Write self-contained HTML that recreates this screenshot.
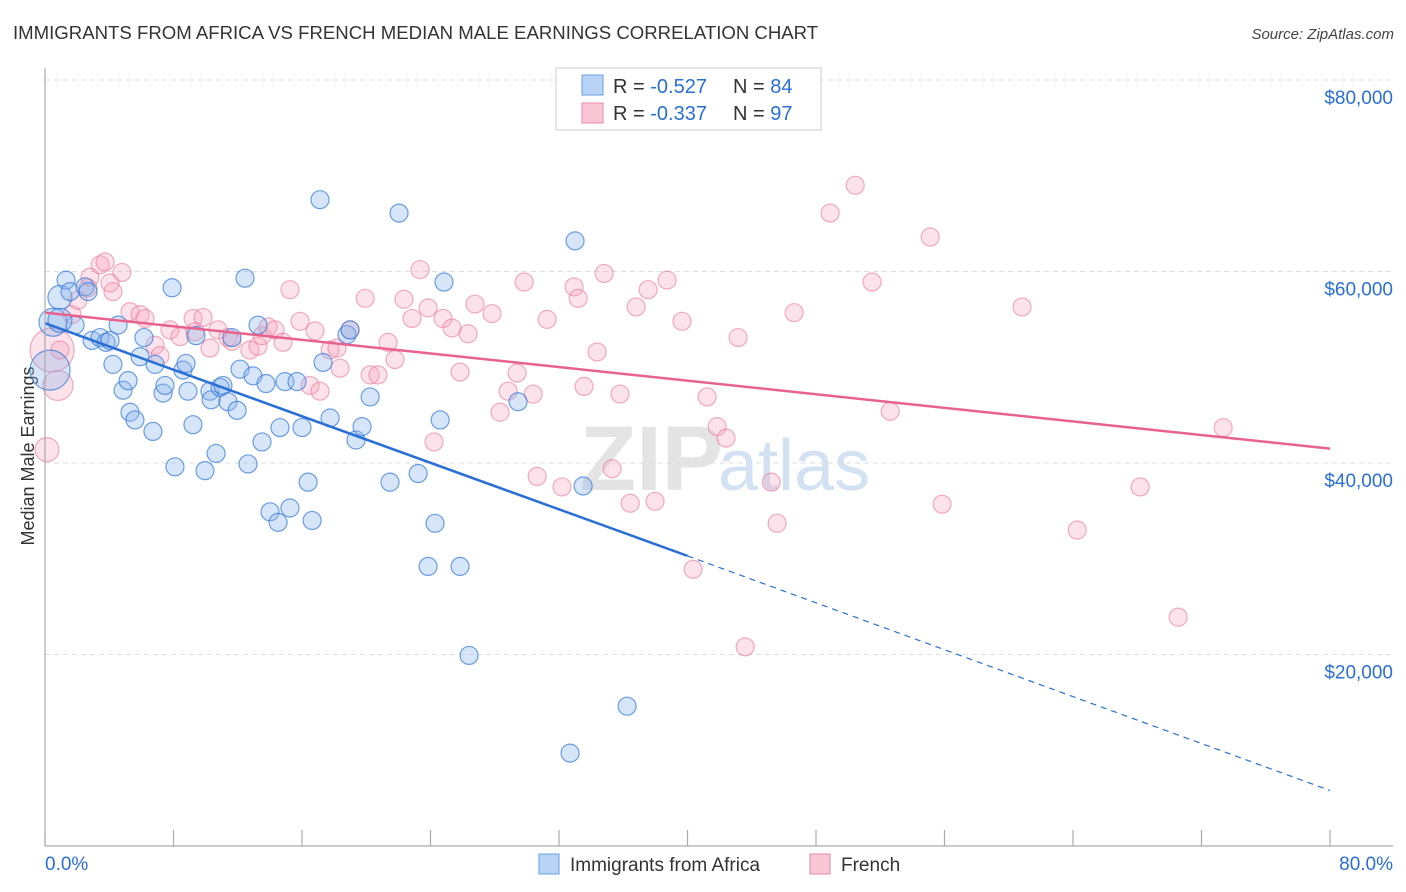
<!DOCTYPE html>
<html><head><meta charset="utf-8">
<style>
body{margin:0;background:#fff;font-family:"Liberation Sans",sans-serif;}
#wrap{position:relative;width:1406px;height:892px;overflow:hidden;}
svg text{font-family:"Liberation Sans",sans-serif;}
</style></head>
<body>
<div id="wrap">
<svg id="chart" width="1406" height="892">
<text x="13" y="39" font-size="18.6" fill="#333">IMMIGRANTS FROM AFRICA VS FRENCH MEDIAN MALE EARNINGS CORRELATION CHART</text>
<text x="1394" y="39" font-size="15" fill="#444" font-style="italic" text-anchor="end">Source: ZipAtlas.com</text>
<text transform="translate(34,456) rotate(-90)" font-size="18" fill="#333" text-anchor="middle">Median Male Earnings</text>
<text x="580" y="490" font-size="92" fill="#e4e4e4" font-family="Liberation Serif" font-weight="bold">ZIP</text>
<text x="718" y="490" font-size="72" fill="#d3e2f3">atlas</text>
<g id="grid"></g>
<g id="marks"></g>
<g id="axes"></g>
<g>
<rect x="556" y="68" width="265" height="62" fill="#fff" stroke="#ddd" stroke-width="1.5"/>
<rect x="582" y="75" width="21" height="20" fill="#b8d3f5" stroke="#6a9ee0"/>
<text x="613" y="93" font-size="20" fill="#333">R = <tspan fill="#2a6fd6">-0.527</tspan></text>
<text x="733" y="93" font-size="20" fill="#333">N = <tspan fill="#2a6fd6">84</tspan></text>
<rect x="582" y="103" width="21" height="20" fill="#f9c6d5" stroke="#e98aa8"/>
<text x="613" y="120" font-size="20" fill="#333">R = <tspan fill="#2a6fd6">-0.337</tspan></text>
<text x="733" y="120" font-size="20" fill="#333">N = <tspan fill="#2a6fd6">97</tspan></text>
</g>
<g>
<rect x="539" y="854" width="20" height="20" fill="#b8d3f5" stroke="#6a9ee0"/>
<text x="570" y="871" font-size="19" fill="#333">Immigrants from Africa</text>
<rect x="810" y="854" width="20" height="20" fill="#f9c6d5" stroke="#e98aa8"/>
<text x="841" y="871" font-size="19" fill="#333">French</text>
</g>
</svg>
</div>
<script>
const yTicks=[20000,40000,60000,80000];
const yTickLabels=["$20,000","$40,000","$60,000","$80,000"];
const xTicks=[0,8,16,24,32,40,48,56,64,72,80];
const xEndLabels=["0.0%","80.0%"];
const africaX=[0.50,0.93,1.31,1.56,1.87,2.49,2.68,2.93,3.43,3.80,4.05,4.23,4.55,4.86,5.17,5.29,5.60,5.92,6.16,6.72,6.85,7.35,7.47,7.91,8.09,8.59,8.78,8.90,9.21,9.40,9.96,10.27,10.34,10.65,10.90,11.08,11.39,11.64,11.96,12.14,12.45,12.64,12.95,13.26,13.51,13.76,14.01,14.51,14.63,14.94,15.25,15.69,16.00,16.38,16.63,17.12,17.31,17.75,18.80,18.99,19.36,19.74,20.24,21.48,22.04,23.23,23.85,24.28,24.60,24.84,25.84,26.40,29.45,33.00,33.50,32.69,36.24,0.31,0.93];
const africaY=[54700,57300,59100,57900,54400,58400,57900,52800,53100,52600,52800,50300,54400,47600,48600,45300,44500,51100,53100,43300,50300,47300,48100,58300,39600,49700,50400,47500,44000,53300,39200,47500,46600,41000,47900,48100,46400,53100,45500,49800,59300,39900,49100,54400,42200,48300,34900,33800,43700,48500,35300,48500,43700,38000,34000,67500,50500,44700,53400,53900,42400,43800,46900,38000,66100,38900,29200,33700,44500,58900,29200,19900,46400,63200,37600,9700,14600,49700,54900];
const africaR=[14,12,9,9,9,9,9,9,9,9,9,9,9,9,9,9,9,9,9,9,9,9,9,9,9,9,9,9,9,9,9,9,9,9,9,9,9,9,9,9,9,9,9,9,9,9,9,9,9,9,9,9,9,9,9,9,9,9,9,9,9,9,9,9,9,9,9,9,9,9,9,9,9,9,9,9,9,20,12];
const frenchX=[0.12,0.44,0.81,0.93,1.68,2.05,2.68,2.80,3.43,3.74,4.05,4.23,4.79,5.29,5.92,6.23,6.85,7.16,7.78,8.41,9.22,9.34,9.84,10.27,10.77,11.39,11.64,12.76,13.26,13.51,13.89,14.32,14.82,15.25,15.88,16.50,16.81,17.12,17.75,18.18,18.37,18.99,19.93,20.24,20.73,21.36,21.79,22.35,22.85,23.35,23.85,24.22,24.78,25.34,25.84,26.34,26.77,27.83,28.33,28.83,29.39,29.83,30.39,30.64,31.26,32.19,32.94,33.19,33.56,34.37,34.81,35.31,35.80,36.43,36.80,37.55,37.98,38.73,39.66,40.35,41.22,41.84,42.40,43.15,43.59,45.21,45.58,46.64,48.88,50.44,51.49,52.62,55.11,55.85,60.83,64.26,68.18,70.55,73.35];
const frenchY=[41400,51800,48100,51800,55500,57000,58300,59400,60700,61000,58800,57900,59900,55800,55500,55100,52300,51200,53900,53200,55100,53700,55200,52000,53900,53100,52700,51800,52200,53300,54200,53900,52600,58100,54800,48100,53800,47500,51800,52000,49900,53900,57200,49200,49200,52600,50800,57100,55100,60200,56200,42200,55100,54100,49500,53500,56600,55600,45300,47500,49400,58900,47200,38600,55000,37500,58400,57200,48000,51600,59800,39400,47200,35800,56300,58100,36000,59100,54800,28900,46900,43800,42600,53100,20800,38000,33700,55700,66100,69000,58900,45400,63600,35700,56300,33000,37500,23900,43700];
const frenchR=[12,22,15,9,9,9,9,9,9,9,9,9,9,9,9,9,9,9,9,9,9,9,9,9,9,9,9,9,9,9,9,9,9,9,9,9,9,9,9,9,9,9,9,9,9,9,9,9,9,9,9,9,9,9,9,9,9,9,9,9,9,9,9,9,9,9,9,9,9,9,9,9,9,9,9,9,9,9,9,9,9,9,9,9,9,9,9,9,9,9,9,9,9,9,9,9,9,9,9];
const africaTrend=[54600,30300,5800];
const frenchTrend=[55700,41500];
const NS="http://www.w3.org/2000/svg";
function sx(v){return 45+v/80*1285;}
function sy(v){return 846-v/20000*191.5;}
function mk(t,a,p){const e=document.createElementNS(NS,t);for(const k in a)e.setAttribute(k,a[k]);p.appendChild(e);return e;}
const grid=document.getElementById('grid'),marks=document.getElementById('marks'),axes=document.getElementById('axes');
yTicks.forEach((v,i)=>{
 const l=mk('line',{x1:45,x2:1393,y1:sy(v),y2:sy(v),stroke:'#ddd','stroke-dasharray':'5,4'},grid);
 
 
 const t=mk('text',{x:1393,y:sy(v)+24,'font-size':19,fill:'#2a6fd6','text-anchor':'end'},axes);
 t.textContent=yTickLabels[i];
 
 
});
const ya=mk('line',{x1:45,x2:45,y1:68,y2:846,stroke:'#aaa','stroke-width':1.2},axes);


const xa=mk('line',{x1:45,x2:1393,y1:846,y2:846,stroke:'#aaa','stroke-width':1.2},axes);


xTicks.forEach(v=>{
 const l=mk('line',{x1:sx(v),x2:sx(v),y1:830,y2:846,stroke:'#aaa','stroke-width':1.2},axes);
 
 
});
[[0,'start',45],[80,'end',1393]].forEach((d,i)=>{
 const t=mk('text',{x:d[2],y:870,'font-size':19,fill:'#2a6fd6','text-anchor':d[1]},axes);
 t.textContent=xEndLabels[i];
 
 
});
function pts(X,Y,R,fill,stroke,name){
 X.forEach((x,i)=>{
  const c=mk('circle',{cx:sx(x),cy:sy(Y[i]),r:R[i]||9,fill:fill,stroke:stroke,'stroke-width':1.2},marks);
  
  
 });
}
pts(frenchX,frenchY,frenchR,'rgba(245,160,185,0.3)','rgba(232,120,155,0.6)','point-french');
pts(africaX,africaY,africaR,'rgba(140,180,235,0.35)','rgba(50,120,215,0.7)','point-africa');
const t1=mk('line',{x1:sx(0),y1:sy(africaTrend[0]),x2:sx(40),y2:sy(africaTrend[1]),stroke:'#2a6fd6','stroke-width':2.5},marks);


const t2=mk('line',{x1:sx(40),y1:sy(africaTrend[1]),x2:sx(80),y2:sy(africaTrend[2]),stroke:'#2a6fd6','stroke-width':1.2,'stroke-dasharray':'6,5'},marks);


const t3=mk('line',{x1:sx(0),y1:sy(frenchTrend[0]),x2:sx(80),y2:sy(frenchTrend[1]),stroke:'#e8628f','stroke-width':2.5},marks);


</script>
</body></html>
